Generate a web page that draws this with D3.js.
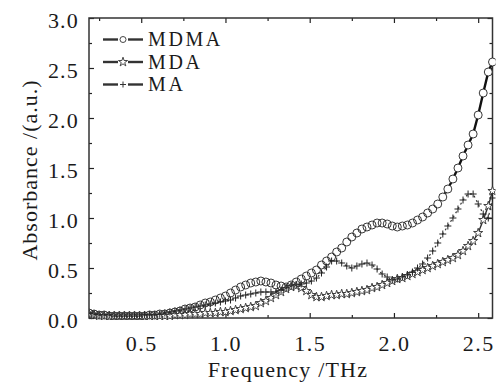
<!DOCTYPE html>
<html><head><meta charset="utf-8">
<script src="https://cdn.jsdelivr.net/npm/d3@7"></script>
<style>
html,body{margin:0;padding:0;background:#fff;}
svg text{font-family:"Liberation Serif","Times New Roman",serif;fill:#1a1a1a;}
</style></head>
<body><svg id="c" width="502" height="385"></svg>
<script>
// ---- data ----
const freq = [0.19,0.22,0.25,0.28,0.31,0.34,0.37,0.40,0.43,0.46,0.49,0.52,0.55,0.58,0.61,0.64,0.67,0.70,0.73,0.76,0.79,0.82,0.85,0.88,0.91,0.94,0.97,1.00,1.03,1.06,1.09,1.12,1.15,1.18,1.21,1.24,1.27,1.30,1.33,1.36,1.39,1.42,1.45,1.48,1.51,1.54,1.57,1.60,1.63,1.66,1.69,1.72,1.75,1.78,1.81,1.84,1.87,1.90,1.93,1.96,1.99,2.02,2.05,2.08,2.11,2.14,2.17,2.20,2.23,2.26,2.29,2.32,2.35,2.38,2.41,2.44,2.47,2.50,2.53,2.56,2.585];
const mdma = [0.05,0.04,0.03,0.03,0.02,0.02,0.02,0.02,0.02,0.02,0.02,0.02,0.03,0.03,0.04,0.04,0.05,0.06,0.07,0.09,0.10,0.11,0.13,0.15,0.16,0.18,0.20,0.22,0.25,0.28,0.31,0.33,0.35,0.36,0.37,0.36,0.35,0.33,0.32,0.31,0.33,0.36,0.39,0.42,0.45,0.48,0.53,0.57,0.61,0.66,0.70,0.76,0.81,0.85,0.89,0.91,0.93,0.95,0.95,0.94,0.92,0.91,0.92,0.93,0.95,0.98,1.01,1.05,1.09,1.14,1.21,1.29,1.39,1.50,1.62,1.73,1.84,2.03,2.25,2.46,2.56];
const mda  = [0.04,0.03,0.02,0.02,0.02,0.02,0.02,0.02,0.02,0.02,0.02,0.02,0.02,0.02,0.02,0.02,0.02,0.03,0.03,0.03,0.04,0.04,0.04,0.05,0.05,0.05,0.06,0.06,0.07,0.08,0.09,0.10,0.11,0.12,0.15,0.17,0.20,0.23,0.26,0.29,0.31,0.32,0.30,0.27,0.23,0.21,0.21,0.22,0.23,0.23,0.24,0.24,0.25,0.26,0.27,0.28,0.30,0.31,0.33,0.35,0.37,0.39,0.40,0.42,0.44,0.46,0.48,0.50,0.52,0.54,0.56,0.58,0.60,0.63,0.67,0.72,0.77,0.85,0.98,1.12,1.27];
const ma   = [0.05,0.04,0.03,0.03,0.03,0.02,0.02,0.02,0.02,0.02,0.02,0.03,0.03,0.03,0.04,0.05,0.06,0.07,0.08,0.09,0.10,0.11,0.12,0.13,0.14,0.15,0.16,0.17,0.18,0.20,0.22,0.23,0.24,0.25,0.26,0.26,0.26,0.26,0.28,0.30,0.32,0.33,0.34,0.35,0.37,0.40,0.45,0.51,0.57,0.57,0.55,0.52,0.50,0.52,0.54,0.55,0.53,0.49,0.44,0.41,0.38,0.39,0.41,0.43,0.46,0.50,0.54,0.60,0.67,0.75,0.84,0.92,1.00,1.09,1.18,1.24,1.24,1.14,1.04,1.00,1.20];
const seriesNames = ["MDMA","MDA","MA"];
const xTicks = [0.5,1.0,1.5,2.0,2.5];
const xMinor = [0.25,0.75,1.25,1.75,2.25];
const yTicks = [0.0,0.5,1.0,1.5,2.0,2.5,3.0];
const yMinor = [0.25,0.75,1.25,1.75,2.25,2.75];
const xTitle = "Frequency /THz";
const yTitle = "Absorbance /(a.u.)";

// ---- layout ----
const svg = d3.select("#c");
const L=89, R=492.5, T=18, B=318;
const x = d3.scaleLinear().domain([0.19,2.585]).range([L,R]);
const y = d3.scaleLinear().domain([0,3]).range([B,T]);
const ink = "#222";

svg.append("clipPath").attr("id","pc").append("rect")
  .attr("x",L).attr("y",T-6).attr("width",R-L+3).attr("height",B-T+8);

function styleAxis(g){ g.select(".domain").remove(); g.selectAll("line").attr("stroke",ink).attr("stroke-width",1.2); }
const fmt = d3.format(".1f");
const gxB = svg.append("g").attr("transform",`translate(0,${B})`)
  .call(d3.axisBottom(x).tickValues(xTicks).tickSize(-5).tickPadding(12).tickFormat(fmt));
styleAxis(gxB);
gxB.selectAll("text").attr("font-size",22).attr("letter-spacing","1.5px").attr("dy","0.95em").attr("fill","#1a1a1a");
svg.append("g").attr("transform",`translate(0,${B})`).call(d3.axisBottom(x).tickValues(xMinor).tickSize(-3).tickFormat("")).call(styleAxis);
svg.append("g").attr("transform",`translate(0,${T})`).call(d3.axisTop(x).tickValues(xTicks).tickSize(-5).tickFormat("")).call(styleAxis);
svg.append("g").attr("transform",`translate(0,${T})`).call(d3.axisTop(x).tickValues(xMinor).tickSize(-3).tickFormat("")).call(styleAxis);

const gyL = svg.append("g").attr("transform",`translate(${L},0)`)
  .call(d3.axisLeft(y).tickValues(yTicks).tickSize(-5).tickPadding(10).tickFormat(fmt));
styleAxis(gyL);
gyL.selectAll("text").attr("font-size",22).attr("letter-spacing","1.2px").attr("dy","0.42em").attr("fill","#1a1a1a");
svg.append("g").attr("transform",`translate(${L},0)`).call(d3.axisLeft(y).tickValues(yMinor).tickSize(-3).tickFormat("")).call(styleAxis);
svg.append("g").attr("transform",`translate(${R},0)`).call(d3.axisRight(y).tickValues(yTicks).tickSize(-5).tickFormat("")).call(styleAxis);
svg.append("g").attr("transform",`translate(${R},0)`).call(d3.axisRight(y).tickValues(yMinor).tickSize(-3).tickFormat("")).call(styleAxis);

svg.append("rect").attr("x",L).attr("y",T).attr("width",R-L).attr("height",B-T)
  .attr("fill","none").attr("stroke","#333").attr("stroke-width",1.5);

svg.append("text").attr("x",288).attr("y",377).attr("text-anchor","middle")
  .attr("font-size",22).attr("letter-spacing","1.2px").text(xTitle);
svg.append("text").attr("transform","translate(37,170) rotate(-90)").attr("text-anchor","middle")
  .attr("font-size",22).attr("letter-spacing","1px").text(yTitle);

const plot = svg.append("g").attr("clip-path","url(#pc)");
const line = d3.line().x(d=>x(d[0])).y(d=>y(d[1]));
const pts = arr => freq.map((f,i)=>[f,arr[i]]);
const star = d3.symbol().type(d3.symbolStar).size(26)();
function plusPath(s){ return `M${-s},0H${s}M0,${-s}V${s}`; }

const dMDMA = pts(mdma);
plot.append("path").attr("d",line(dMDMA)).attr("fill","none").attr("stroke","#111").attr("stroke-width",2.4);
plot.append("g").selectAll("circle").data(dMDMA).join("circle")
  .attr("cx",d=>x(d[0])).attr("cy",d=>y(d[1])).attr("r",4).attr("fill","#fff").attr("stroke","none");
plot.append("g").selectAll("circle").data(dMDMA).join("circle")
  .attr("cx",d=>x(d[0])).attr("cy",d=>y(d[1])).attr("r",4).attr("fill","none").attr("stroke","#222").attr("stroke-width",0.9);

const dMDA = pts(mda);
plot.append("path").attr("d",line(dMDA)).attr("fill","none").attr("stroke","#333").attr("stroke-width",1.4);
plot.append("g").selectAll("path").data(dMDA).join("path")
  .attr("transform",d=>`translate(${x(d[0])},${y(d[1])})`).attr("d",star)
  .attr("fill","#fff").attr("stroke","#333").attr("stroke-width",0.9);

const dMA = pts(ma);
plot.append("path").attr("d",line(dMA)).attr("fill","none").attr("stroke","#333").attr("stroke-width",1.2).attr("stroke-dasharray","2,3");
plot.append("g").selectAll("path").data(dMA).join("path")
  .attr("transform",d=>`translate(${x(d[0])},${y(d[1])})`).attr("d",plusPath(3.5))
  .attr("fill","none").attr("stroke","#222").attr("stroke-width",1);

const legY = [39.5,62,84.5];
const lg = svg.append("g");
legY.forEach((ly,i)=>{
  lg.append("line").attr("x1",103).attr("x2",118).attr("y1",ly).attr("y2",ly).attr("stroke","#333").attr("stroke-width",2.4);
  lg.append("line").attr("x1",128).attr("x2",143).attr("y1",ly).attr("y2",ly).attr("stroke","#333").attr("stroke-width",2.4);
  if(i===0) lg.append("circle").attr("cx",123).attr("cy",ly).attr("r",3).attr("fill","#fff").attr("stroke","#333").attr("stroke-width",0.9);
  if(i===1) lg.append("path").attr("transform",`translate(123,${ly})`).attr("d",star).attr("fill","#fff").attr("stroke","#333").attr("stroke-width",0.9);
  if(i===2) lg.append("path").attr("transform",`translate(123,${ly})`).attr("d",plusPath(3)).attr("stroke","#333").attr("stroke-width",1);
  lg.append("text").attr("x",148).attr("y",ly+6.5).attr("font-size",20).attr("letter-spacing","2.6px").text(seriesNames[i]);
});
</script></body></html>
